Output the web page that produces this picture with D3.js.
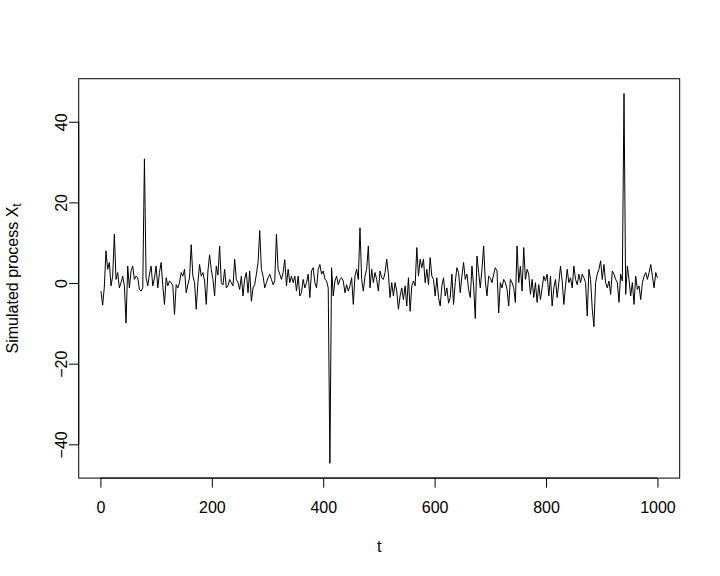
<!DOCTYPE html>
<html><head><meta charset="utf-8">
<script src="https://cdn.jsdelivr.net/npm/d3@7"></script>
<style>
body{margin:0;background:#fff}
text{font-family:"Liberation Sans",Arial,Helvetica,sans-serif;fill:#000}
</style>
</head><body>
<svg id="chart" width="720" height="576"></svg>
<script>
// time index: t = tStart + i*tStep
const tStart = 1, tStep = 3;
const values = [
  -2.0,-5.5,-1.0,8.0,3.4,5.1,-0.7,1.7,12.1,0.9,2.6,-1.2,0.1,1.7,-0.7,-9.9,4.2,-1.2,3.0,4.2,0.9,1.7,1.3,-1.6,-2.0,-1.2,30.8,1.3,-0.7,2.2,4.2,-0.7,1.3,4.2,-1.2,2.6,5.1,-0.7,-5.3,1.3,-0.7,0.5,0.1,
  -0.7,-7.8,-0.4,-1.2,0.1,2.6,1.7,3.4,-2.4,-0.4,1.3,9.5,1.7,0.1,-6.5,0.1,4.6,1.7,2.6,0.5,-5.3,3.0,7.0,3.4,0.9,-3.2,4.2,2.0,9.2,0.1,-0.5,3.4,-1.2,-0.7,0.9,0.1,-0.7,5.9,0.9,0.1,
  -1.6,1.7,-3.2,1.0,2.6,-2.4,3.0,-4.5,-1.2,-0.4,2.2,5.1,13.0,3.4,1.7,-1.2,0.1,1.3,2.2,0.9,-0.4,0.5,12.1,3.4,2.2,0.9,2.6,5.8,-0.7,3.4,0.1,1.7,0.1,1.7,-2.0,1.7,-3.2,-2.4,0.9,-1.2,0.1,
  2.2,-3.6,3.0,3.8,0.1,-1.2,3.4,4.6,2.2,3.0,1.0,0.5,-1.2,-44.7,3.8,-3.2,0.5,1.7,-0.4,0.9,1.3,0.5,-2.4,-0.4,-2.0,-0.7,1.3,-5.3,1.7,3.4,0.9,13.7,0.9,-2.0,1.7,3.4,9.2,-1.2,3.4,0.1,2.6,0.9,
  -2.0,3.0,1.3,0.9,2.6,5.9,2.2,-3.6,0.1,-3.2,0.1,-2.0,-6.5,-3.2,-1.2,-4.1,-0.7,-5.7,1.3,-7.0,-0.7,0.5,-0.7,8.8,1.7,5.9,3.8,5.9,0.1,3.4,-0.4,6.3,1.7,0.9,-3.2,1.3,-3.6,-5.7,-0.7,1.3,-3.2,
  -1.2,-5.0,-3.6,2.2,-5.3,0.1,3.8,2.6,-2.4,1.7,5.1,0.9,2.2,-1.6,-3.6,4.2,-0.7,-8.8,6.7,2.6,-1.2,3.4,9.2,0.5,-3.2,1.7,1.3,0.1,2.2,3.8,3.0,-7.4,0.1,-1.2,0.9,0.1,-1.6,-5.7,0.9,0.1,-1.2,-4.8,
  9.2,0.1,4.2,-2.0,8.8,0.9,3.4,2.2,-2.8,0.9,-3.6,0.1,-4.8,-0.4,-4.1,-1.2,1.7,0.5,2.2,-3.2,1.7,-5.7,-1.2,0.9,-3.6,0.1,4.2,0.5,-5.3,-0.7,3.4,0.1,1.3,-1.2,4.2,0.9,-0.4,2.2,0.1,2.2,1.3,0.1,
  -8.2,3.4,0.9,-6.5,-10.8,0.1,2.2,3.4,5.5,0.9,4.6,0.1,-1.2,0.5,-2.8,3.0,2.2,0.9,0.1,-4.8,2.2,0.5,47.0,-2.8,4.2,0.9,-3.2,0.1,-5.3,1.7,-1.6,-0.7,-4.1,0.1,1.7,2.6,0.9,2.6,4.6,1.7,-1.2,2.6,1.3
];
const xTicks = [0, 200, 400, 600, 800, 1000];
const yTicks = [-40, -20, 0, 20, 40];
const xLabel = "t";
const yLabelMain = "Simulated process X";
const yLabelSub = "t";

const W = 720, H = 576;
const lh = 19.2;
const margin = {top: 4.1*lh, right: 2.1*lh, bottom: 5.1*lh, left: 4.1*lh};
const data = values.map((v, i) => ({t: tStart + i*tStep, v}));

const svg = d3.select("#chart");
svg.append("rect").attr("width", W).attr("height", H).attr("fill", "#fff");

const [tx0, tx1] = d3.extent(data, d => d.t);
const [vy0, vy1] = d3.extent(data, d => d.v);
const px = 0.04*(tx1 - tx0), py = 0.04*(vy1 - vy0);
const x = d3.scaleLinear().domain([tx0 - px, tx1 + px]).range([margin.left, W - margin.right]);
const y = d3.scaleLinear().domain([vy0 - py, vy1 + py]).range([H - margin.bottom, margin.top]);

// series line
svg.append("path").datum(data)
  .attr("fill", "none").attr("stroke", "#000").attr("stroke-width", 1)
  .attr("stroke-linejoin", "round")
  .attr("d", d3.line().x(d => x(d.t)).y(d => y(d.v)));

// box
svg.append("rect")
  .attr("x", margin.left).attr("y", margin.top)
  .attr("width", W - margin.left - margin.right)
  .attr("height", H - margin.top - margin.bottom)
  .attr("fill", "none").attr("stroke", "#000").attr("stroke-width", 1);

// x axis
const gx = svg.append("g").attr("transform", `translate(0,${H - margin.bottom})`)
  .call(d3.axisBottom(x).tickValues(xTicks).tickSize(9.6).tickSizeOuter(0).tickFormat(d3.format("d")));
gx.select(".domain").attr("d", `M${x(xTicks[0])},0H${x(xTicks[xTicks.length-1])}`).attr("stroke", "#000");
gx.selectAll(".tick line").attr("stroke", "#000");
gx.selectAll(".tick text").attr("y", 29).attr("dy", "0.36em")
  .attr("font-size", 16).attr("font-family", '"Liberation Sans",Arial,sans-serif').attr("fill", "#000");

// y axis
const gy = svg.append("g").attr("transform", `translate(${margin.left},0)`)
  .call(d3.axisLeft(y).tickValues(yTicks).tickSize(9.6).tickSizeOuter(0).tickFormat(d3.format("d")));
gy.select(".domain").attr("d", `M0,${y(yTicks[0])}V${y(yTicks[yTicks.length-1])}`).attr("stroke", "#000");
gy.selectAll(".tick line").attr("stroke", "#000");
gy.selectAll(".tick text")
  .attr("x", null).attr("dy", "0.36em")
  .attr("transform", "translate(-17.5,0) rotate(-90)")
  .attr("text-anchor", "middle")
  .attr("font-size", 16).attr("font-family", '"Liberation Sans",Arial,sans-serif').attr("fill", "#000");

// axis titles
svg.append("text")
  .attr("x", (margin.left + W - margin.right)/2).attr("y", 546).attr("dy", "0.36em")
  .attr("text-anchor", "middle").attr("font-size", 16).text(xLabel);

const yl = svg.append("text")
  .attr("transform", `translate(12,${(margin.top + H - margin.bottom)/2}) rotate(-90)`)
  .attr("dy", "0.36em").attr("text-anchor", "middle").attr("font-size", 16);
yl.append("tspan").text(yLabelMain);
yl.append("tspan").attr("font-size", 12).attr("dy", "0.3em").text(yLabelSub);
</script>
</body></html>
